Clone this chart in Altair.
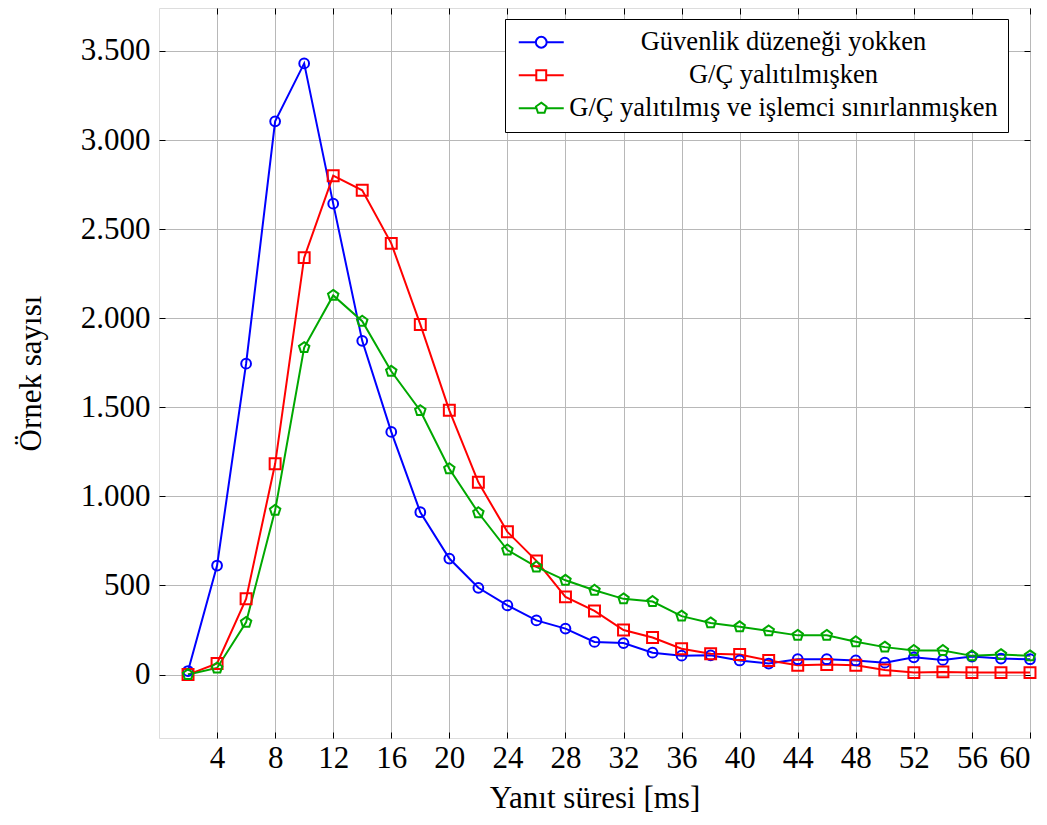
import altair as alt
import pandas as pd

# ---- data ----
x_ms = list(range(2, 62, 2))
series_names = [
    "Güvenlik düzeneği yokken",
    "G/Ç yalıtılmışken",
    "G/Ç yalıtılmış ve işlemci sınırlanmışken",
]
blue = [20, 612, 1745, 3105, 3430, 2643, 1873, 1362, 911, 651, 487, 388, 304, 258, 183,
        177, 123, 106, 108, 79, 62, 86, 86, 79, 67, 97, 82, 101, 90, 86]
red = [0, 62, 425, 1183, 2340, 2800, 2718, 2420, 1965, 1483, 1079, 801, 638, 436, 357,
       250, 208, 145, 117, 113, 79, 52, 56, 52, 26, 11, 15, 11, 11, 11]
green = [0, 37, 293, 922, 1835, 2128, 1983, 1702, 1481, 1155, 908, 699, 604, 529, 473,
         425, 410, 328, 290, 268, 245, 220, 220, 184, 154, 135, 135, 105, 112, 105]
colors = ["#0000FF", "#FF0000", "#00A800"]
x_ticks = list(range(4, 61, 4))
y_ticks = list(range(0, 3501, 500))

rows = []
for name, vals in zip(series_names, [blue, red, green]):
    for xv, yv in zip(x_ms, vals):
        rows.append({"t": xv, "n": yv, "seri": name})
df = pd.DataFrame(rows)

FONT = "Liberation Serif"
GRID = "#b8b8b8"

xscale = alt.Scale(domain=[0, 60], nice=False, zero=False)
yscale = alt.Scale(domain=[-356, 3741], nice=False, zero=False)
color_scale = alt.Scale(domain=series_names, range=colors)

pent = "M0,-1L0.951,-0.309L0.588,0.809L-0.588,0.809L-0.951,-0.309Z"
circle_leg = "M-2.5,0H-0.6M0.6,0H2.5M-0.6,0A0.6,0.6 0 1,1 0.6,0A0.6,0.6 0 1,1 -0.6,0Z"
square_leg = "M-2.5,0H-0.55M0.55,0H2.5M-0.55,-0.55H0.55V0.55H-0.55Z"
pent_leg = "M-2.5,0H-0.53M0.53,0H2.5M0,-0.62L0.59,-0.19L0.364,0.5L-0.364,0.5L-0.59,-0.19Z"

leg = alt.Legend(
    title=None, orient="none", legendX=346, legendY=11, direction="vertical",
    fillColor="white", strokeColor="black", padding=10,
    labelFont=FONT, labelFontSize=26.5, labelColor="black", labelAlign="center",
    labelOffset=229, labelLimit=800, symbolSize=324, symbolStrokeWidth=2,
    symbolOffset=13, rowPadding=6,
)

bottom_axis = alt.Axis(
    orient="bottom", values=x_ticks, offset=-6, tickSize=6, domain=False,
    grid=True, gridColor=GRID, gridWidth=1, tickColor="black", tickWidth=1,
    labelFont=FONT, labelFontSize=31, labelColor="black", labelPadding=5,
    title="Yanıt süresi [ms]", titleFont=FONT, titleFontSize=31,
    titleFontWeight="normal", titleColor="black", titlePadding=10,
)
top_axis = alt.Axis(
    orient="top", values=x_ticks, offset=-6, tickSize=6, domain=False,
    grid=False, labels=False, title=None, tickColor="black", tickWidth=1,
)
left_axis = alt.Axis(
    orient="left", values=y_ticks, offset=-6, tickSize=6, domain=False,
    grid=True, gridColor=GRID, gridWidth=1, tickColor="black", tickWidth=1,
    labelFont=FONT, labelFontSize=31, labelColor="black", labelPadding=9,
    labelExpr="replace(format(datum.value, ','), ',', '.')",
    title="Örnek sayısı", titleFont=FONT, titleFontSize=31,
    titleFontWeight="normal", titleColor="black", titlePadding=33,
)
right_axis = alt.Axis(
    orient="right", values=y_ticks, offset=-6, tickSize=6, domain=False,
    grid=False, labels=False, title=None, tickColor="black", tickWidth=1,
)

color_enc = alt.Color("seri:N", scale=color_scale, legend=leg)

lines = alt.Chart(df).mark_line(strokeWidth=2).encode(
    x=alt.X("t:Q", scale=xscale, axis=bottom_axis),
    y=alt.Y("n:Q", scale=yscale, axis=left_axis),
    color=color_enc,
)

shapes = ["circle", "square", pent]
sizes = [95, 120, 120]
point_layers = []
for i, name in enumerate(series_names):
    ax_x = top_axis if i == 0 else None
    ax_y = right_axis if i == 0 else None
    p = alt.Chart(df).transform_filter(alt.datum.seri == name).mark_point(
        shape=shapes[i], size=sizes[i], filled=False, strokeWidth=2, opacity=1
    ).encode(
        x=alt.X("t:Q", scale=xscale, axis=ax_x),
        y=alt.Y("n:Q", scale=yscale, axis=ax_y),
        color=color_enc,
    )
    point_layers.append(p)

legend_layer = alt.Chart(df).transform_filter("false").mark_point(
    filled=False, strokeWidth=2, opacity=1
).encode(
    x=alt.X("t:Q", scale=xscale, axis=None),
    y=alt.Y("n:Q", scale=yscale, axis=None),
    color=color_enc,
    shape=alt.Shape("seri:N", scale=alt.Scale(domain=series_names,
                    range=[circle_leg, square_leg, pent_leg]), legend=leg),
)

chart = alt.layer(lines, *point_layers, legend_layer).resolve_axis(
    x="independent", y="independent"
).properties(
    width=871, height=730,
    padding={"left": 151, "top": 0, "right": 9, "bottom": 85},
    autosize=alt.AutoSizeParams(type="none"),
).configure_view(stroke="black", strokeWidth=1).configure(background="white")

chart.save("out.html", embed_options={"renderer": "svg", "actions": False})
